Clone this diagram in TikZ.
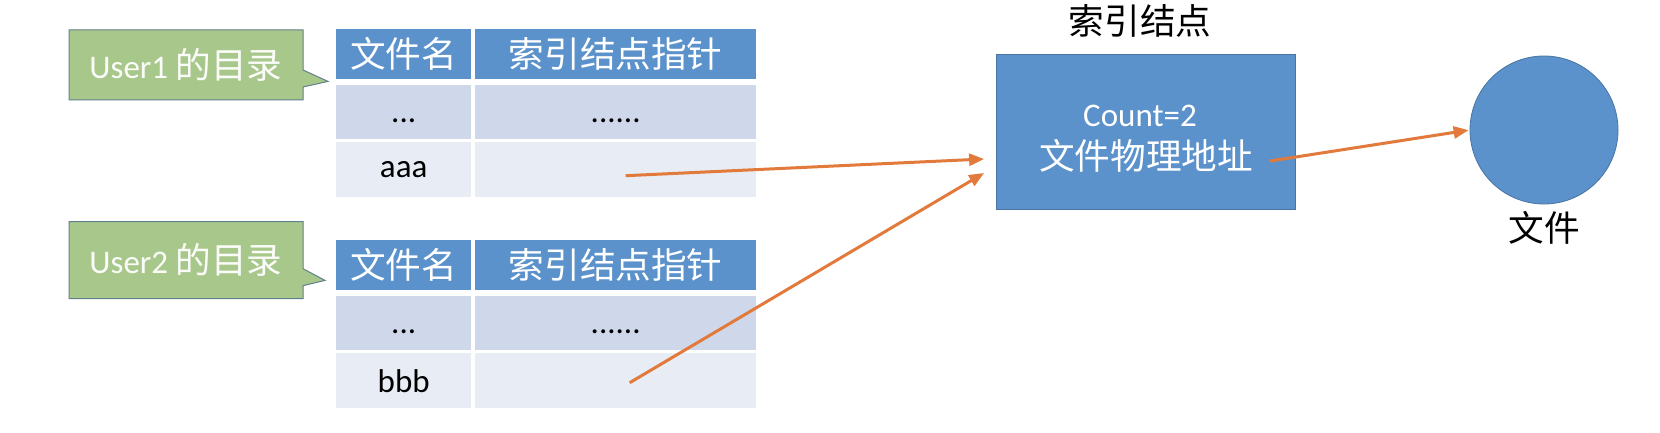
\documentclass[tikz,border=0pt]{standalone}
\usepackage{fontspec}
\setmainfont{Carlito}
\newfontfamily\cjk[Scale=1.08]{Noto Sans CJK SC}
\usetikzlibrary{shapes.callouts,arrows.meta,calc}
\definecolor{hdblue}{HTML}{5B92CB}
\definecolor{rowdark}{HTML}{CFD8EA}
\definecolor{rowlight}{HTML}{E8ECF4}
\definecolor{notegreen}{HTML}{A8C88B}
\definecolor{noteedge}{HTML}{62808C}
\definecolor{linkorange}{HTML}{E27A3C}
\newcommand\lowtext[1]{\raisebox{-8pt}[\height][0pt]{#1}}
\tikzset{
  big/.style={font=\fontsize{33}{43}\selectfont},
  cell/.style={anchor=north west, inner sep=0pt, minimum height=#1, big},
  hd/.style={cell=50pt, fill=hdblue, text=white},
  note/.style={rectangle callout, draw=noteedge, line width=1pt, fill=notegreen,
    text=white!95!notegreen, inner sep=0pt, minimum width=234pt,
    callout pointer width=17pt, big},
  link/.style={draw=linkorange, line width=3pt, -{Triangle[length=15pt,width=12pt]}}
}
\begin{document}
\begin{tikzpicture}[x=1pt,y=-1pt]
  \useasboundingbox[fill=white] (0,0) rectangle (1660,433);
  % two directory tables
  \foreach \t/\y/\f in {a/29/aaa, b/240/bbb} {
    \node[hd, minimum width=135pt] (\t-h1) at (336,\y) {\cjk 文件名};
    \node[hd, minimum width=281pt] (\t-h2) at (475,\y) {\cjk 索引结点指针};
    \node[cell=54pt, fill=rowdark, minimum width=135pt] (\t-r2) at (336,\y+56) {\lowtext{...}};
    \node[cell=54pt, fill=rowdark, minimum width=281pt] (\t-c2) at (475,\y+56) {\lowtext{......}};
    \node[cell=55pt, fill=rowlight, minimum width=135pt] (\t-r3) at (336,\y+113) {\f};
    \node[cell=55pt, fill=rowlight, minimum width=281pt] (\t-c3) at (475,\y+113) {};
  }
  \node[note, minimum height=70pt, callout absolute pointer={($(a-h1.south west)+(-8,2)$)}]
    (user1) at (186,65) {User1 {\cjk 的目录}};
  \node[note, minimum height=77pt, callout absolute pointer={($(b-h1.south west)+(-11,-10)$)}]
    (user2) at (186,260) {User2 {\cjk 的目录}};
  % index node and file
  \node[draw=hdblue!80!black, line width=0.8pt, fill=hdblue, text=white, big, align=center,
    minimum width=299pt, minimum height=155pt] (inode) at (1146,132)
    {\rule{0pt}{35pt}Count=2\hspace*{12pt}\\{\cjk 文件物理地址}};
  \node[big] (inode-lbl) at (1140,21) {\cjk 索引结点};
  \node[circle, draw=hdblue!80!black, line width=0.8pt, fill=hdblue, minimum size=148pt] (file) at (1544,130) {};
  \node[big] (file-lbl) at (1544,228) {\cjk 文件};
  % pointers
  \draw[link] ($(a-c3.center)+(10,6)$) -- ($(inode.west)+(-12,27)$);
  \draw[link] ($(b-c3.center)+(14,2)$) -- ($(inode.west)+(-12,41)$);
  \draw[link, shorten >=1pt] ($(inode.center)+(124,29)$) -- (file.west);
\end{tikzpicture}
\end{document}
